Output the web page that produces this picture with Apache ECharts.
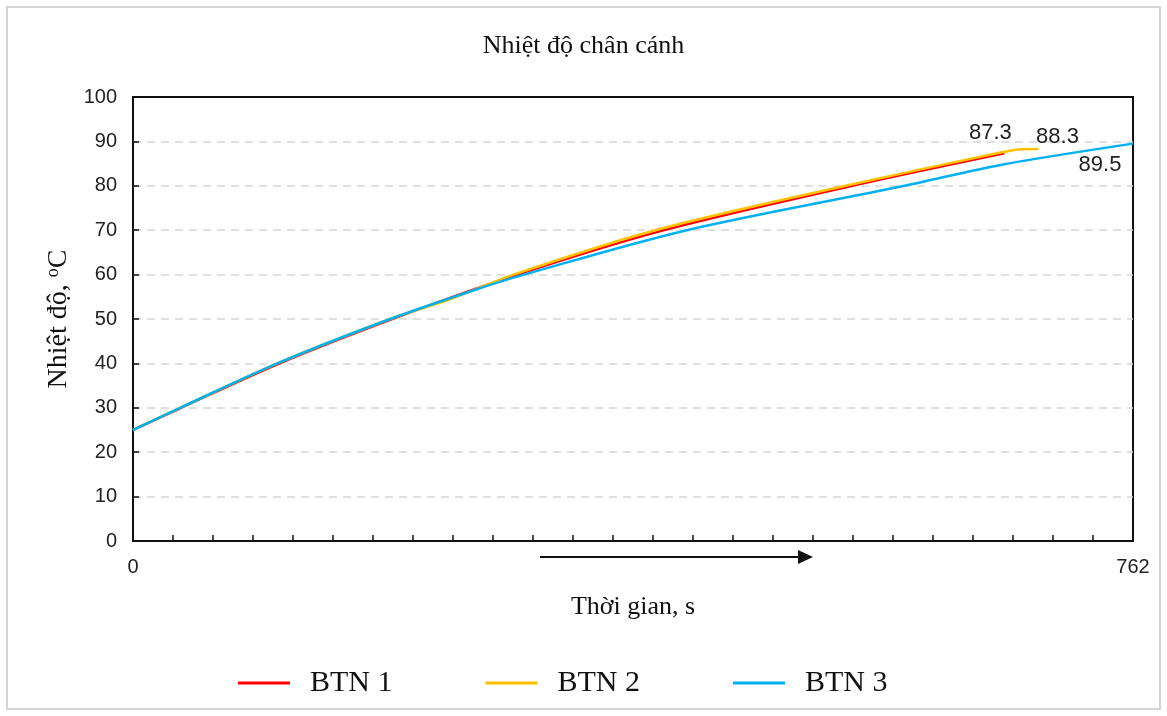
<!DOCTYPE html>
<html>
<head>
<meta charset="utf-8">
<script src="https://cdn.jsdelivr.net/npm/echarts@6/dist/echarts.min.js"></script>
<style>
html,body{margin:0;padding:0;background:#fff;}
#c{width:1167px;height:716px;}
</style>
</head>
<body>
<div id="c"></div>
<script>
// Time (s) and temperature (°C)
const btn1T = [0, 36, 110, 196, 290, 402, 545, 664];
const btn1V = [25, 29.9, 39.8, 49.8, 59.7, 69.8, 79.8, 87.3];

const btn2T = [0, 36, 110, 196, 242, 290, 398, 543, 661, 675, 690];
const btn2V = [25, 30, 40, 50, 54.5, 60, 70, 80, 87.5, 88.2, 88.3];

const btn3T = [0, 36, 110, 196, 264, 298, 422, 588, 661, 762];
const btn3V = [25, 30, 40, 50, 56.9, 60, 70, 80, 84.7, 89.5];

const seriesNames = ['BTN 1', 'BTN 2', 'BTN 3'];
const xTickLabels = ['0', '762'];
const xMax = 762;
const yMin = 0, yMax = 100, yInterval = 10;

const serif = 'Liberation Serif, Times New Roman, serif';
const sans = 'Liberation Sans, Arial, sans-serif';

function build(ts, vs, labelOpt) {
  return ts.map((t, i) => {
    const item = { value: [t, vs[i]] };
    if (i === ts.length - 1) {
      item.label = Object.assign({
        show: true,
        formatter: String(vs[i]),
        color: '#222',
        fontFamily: sans,
        fontSize: 22
      }, labelOpt);
    }
    return item;
  });
}

function lineSeries(name, color, z, data) {
  return {
    name: name, type: 'line', smooth: 0.3,
    symbol: 'circle', symbolSize: 0, showSymbol: true, z: z,
    lineStyle: { color: color, width: 2.5 }, itemStyle: { color: color },
    emphasis: { disabled: true },
    data: data
  };
}

const axisLineStyle = { color: '#111', width: 2 };

const chart = echarts.init(document.getElementById('c'), null, { renderer: 'canvas' });
chart.setOption({
  backgroundColor: '#fff',
  animation: false,
  title: {
    text: 'Nhiệt độ chân cánh',
    left: 'center',
    top: 28,
    textStyle: { fontFamily: serif, fontSize: 26, fontWeight: 'normal', color: '#111' }
  },
  grid: {
    left: 133, right: 34, top: 97, bottom: 175,
    show: true, borderColor: '#111', borderWidth: 2, backgroundColor: 'transparent'
  },
  legend: {
    data: seriesNames,
    left: 233,
    top: 663,
    icon: 'rect',
    itemWidth: 52,
    itemHeight: 3,
    itemGap: 93,
    textStyle: { fontFamily: serif, fontSize: 30, color: '#111', padding: [0, 0, 0, 15] }
  },
  xAxis: [
    {
      type: 'value',
      min: 0,
      max: xMax,
      interval: xMax / 25,
      name: 'Thời gian, s',
      nameLocation: 'middle',
      nameGap: 53,
      nameTextStyle: { fontFamily: serif, fontSize: 26, color: '#111' },
      axisLine: { show: true, lineStyle: axisLineStyle },
      axisTick: { show: true, inside: true, length: 6, lineStyle: { color: '#111', width: 1.5 } },
      axisLabel: {
        margin: 16,
        fontFamily: sans, fontSize: 20, color: '#222',
        showMinLabel: true, showMaxLabel: true,
        formatter: v => (v < 1 ? xTickLabels[0] : (v > xMax - 1 ? xTickLabels[1] : ''))
      },
      splitLine: { show: false }
    },
    {
      type: 'value', position: 'top', min: 0, max: xMax,
      axisLine: { show: true, onZero: false, lineStyle: axisLineStyle },
      axisTick: { show: false }, axisLabel: { show: false }, splitLine: { show: false }
    }
  ],
  yAxis: {
    type: 'value',
    min: yMin,
    max: yMax,
    interval: yInterval,
    name: '{a|Nhiệt độ, }{s|o}{a|C}',
    nameLocation: 'middle',
    nameGap: 57,
    nameTextStyle: {
      rich: {
        a: { fontFamily: serif, fontSize: 28, color: '#111' },
        s: { fontFamily: serif, fontSize: 18, color: '#111', verticalAlign: 'top', padding: [0, 0, 10, 0] }
      }
    },
    axisLine: { show: true, lineStyle: axisLineStyle },
    axisTick: { show: true, inside: true, length: 6, lineStyle: { color: '#111', width: 1.5 } },
    axisLabel: { margin: 16, fontFamily: sans, fontSize: 20, color: '#222' },
    splitLine: { show: true, lineStyle: { color: '#d6d6d6', width: 1.5, type: [8, 6] } }
  },
  series: [
    lineSeries(seriesNames[0], '#ff0000', 2, build(btn1T, btn1V, { position: 'top', offset: [-14, -4] })),
    lineSeries(seriesNames[1], '#ffc000', 3, build(btn2T, btn2V, { position: 'top', offset: [19, 4] })),
    lineSeries(seriesNames[2], '#00b0f0', 4, build(btn3T, btn3V, { position: 'bottom', offset: [-33, 5] }))
  ],
  graphic: [
    {
      type: 'rect', z: -1,
      shape: { x: 7, y: 7, width: 1153, height: 702 },
      style: { fill: 'none', stroke: '#d4d4d4', lineWidth: 2 }
    },
    {
      type: 'line',
      shape: { x1: 540, y1: 557, x2: 802, y2: 557 },
      style: { stroke: '#111', lineWidth: 2 }
    },
    {
      type: 'polygon',
      shape: { points: [[798, 550], [813, 557], [798, 564]] },
      style: { fill: '#111' }
    }
  ]
});
</script>
</body>
</html>
